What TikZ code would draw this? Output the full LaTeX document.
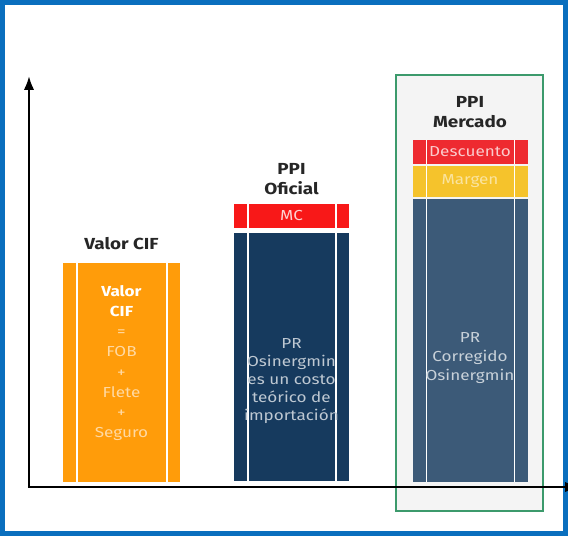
\documentclass[tikz,border=0pt]{standalone}
\usepackage{fontspec}
\setmainfont[FakeStretch=1.18]{Fira Sans}
\usetikzlibrary{arrows.meta,positioning}
\definecolor{frameblue}{HTML}{0A6FBE}
\definecolor{cifor}{HTML}{FF9C0A}
\definecolor{navy}{HTML}{163A5E}
\definecolor{slate}{HTML}{3C5A78}
\definecolor{mcred}{HTML}{F81818}
\definecolor{desred}{HTML}{EE2A30}
\definecolor{margy}{HTML}{F5C32C}
\definecolor{boxgreen}{HTML}{3C9A6C}
\definecolor{boxgray}{HTML}{F4F4F4}

\begin{document}
\begin{tikzpicture}[x=1pt, y=-1pt, >=Latex, every node/.style={align=center}]
    \useasboundingbox (0,0) rectangle (568,536);
    \draw[frameblue,line width=5pt] (2.5,2.5) rectangle (565.5,533.5);
    \tikzset{
      seg/.style={inner sep=0pt,minimum width=115pt,
        path picture={\draw[white,line width=1.4pt]
          ([xshift=14pt]path picture bounding box.north west) -- ([xshift=14pt]path picture bounding box.south west)
          ([xshift=-13pt]path picture bounding box.north east) -- ([xshift=-13pt]path picture bounding box.south east);}},
      head/.style={font=\fontsize{16}{20}\selectfont\bfseries,text=black!85},
      bartext/.style={font=\fontsize{14.5}{19}\selectfont}
    }
    % market frame behind the third bar
    \node[draw=boxgreen,line width=1.2pt,fill=boxgray,minimum width=147pt,minimum height=436pt,inner sep=0pt]
      (mercadobox) at (469.5,293) {};
    % axes
    \coordinate (origin) at (29,487);
    \coordinate (ytop) at (29,76);
    \coordinate (xend) at (579,487);
    \draw[->,line width=2.4pt] (origin) -- (ytop);
    \draw[->,line width=2.4pt] ([xshift=-1.2pt]origin) -- (xend);
    % Valor CIF
    \node[seg,fill=cifor,minimum width=117pt,minimum height=219pt] (cif) at (121.5,372.5) {};
    \node[head] (ciflabel) at (121.5,244) {Valor CIF};
    \node[bartext,text=white!100!cifor,font=\fontsize{14.5}{20.2}\selectfont] (ciftxt) at (121.5,363)
      {\textbf{Valor}\\\textbf{CIF}\\\color{white!62!cifor}=\\\color{white!62!cifor}FOB\\
       \color{white!62!cifor}+\\\color{white!62!cifor}Flete\\\color{white!62!cifor}+\\\color{white!62!cifor}Seguro};
    % PPI Oficial
    \node[seg,fill=navy,minimum height=248pt] (proficial) at (291.5,357) {};
    \node[seg,fill=mcred,minimum height=24pt] (mc) at (291.5,216) {};
    \node[font=\fontsize{14.5}{19}\selectfont,text=white!80!mcred] (mctxt) at (mc) {MC};
    \node[head] (oficiallabel) at (291.5,179) {PPI\\Oficial};
    \node[bartext,text=white!72!navy,font=\fontsize{14.5}{18}\selectfont] (oficialtxt) at (291.5,381)
      {PR\\Osinergmin\\es un costo\\teórico de\\importación};
    % PPI Mercado
    \node[seg,fill=slate,minimum height=283pt] (prmercado) at (470,340.5) {};
    \node[seg,fill=margy,minimum height=31pt] (margen) at (470,181.5) {};
    \node[seg,fill=desred,minimum height=24pt] (descuento) at (470,152) {};
    \node[font=\fontsize{14.5}{19}\selectfont,text=white!75!desred] (destxt) at (descuento) {Descuento};
    \node[font=\fontsize{14.5}{19}\selectfont,text=white!55!margy] (margtxt) at (margen) {Margen};
    \node[head] (mercadolabel) at (470,112) {PPI\\Mercado};
    \node[bartext,text=white!72!slate] (mercadotxt) at (470,358)
      {PR\\Corregido\\Osinergmin};
\end{tikzpicture}
\end{document}
